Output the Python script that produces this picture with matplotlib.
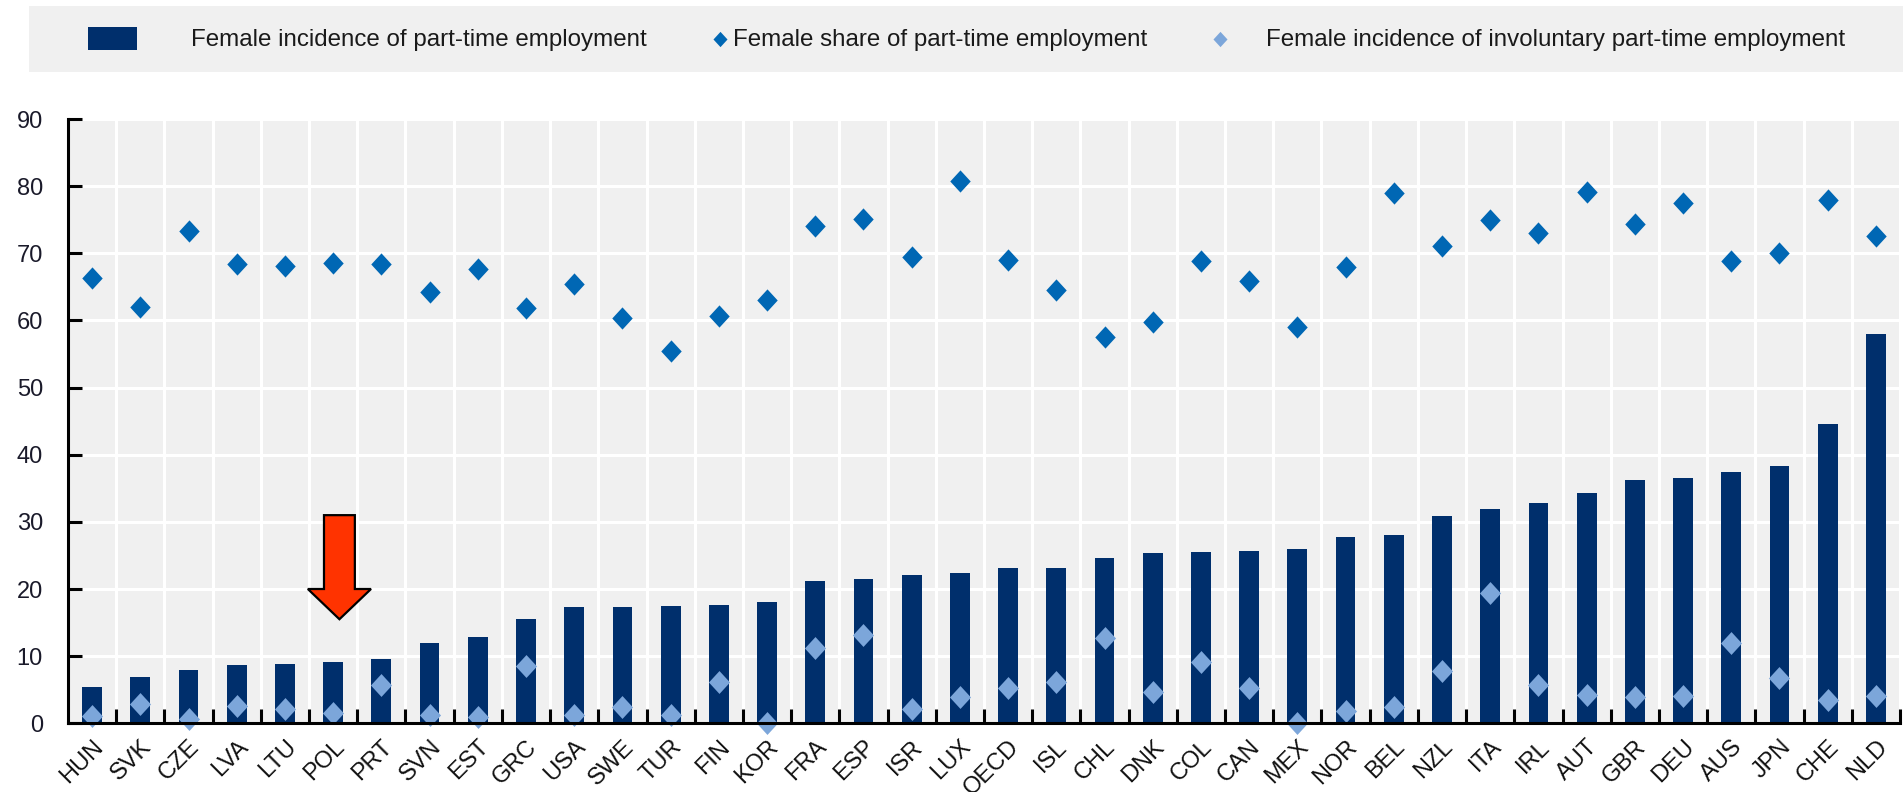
import matplotlib
matplotlib.use("Agg")
import matplotlib.pyplot as plt
from matplotlib.patches import Rectangle, FancyArrow
from matplotlib.lines import Line2D
from matplotlib.ticker import FixedLocator

plt.rcParams['font.family'] = ['Liberation Sans', 'DejaVu Sans']

# --- datos ---
countries = ["HUN", "SVK", "CZE", "LVA", "LTU", "POL", "PRT", "SVN", "EST", "GRC",
             "USA", "SWE", "TUR", "FIN", "KOR", "FRA", "ESP", "ISR", "LUX", "OECD",
             "ISL", "CHL", "DNK", "COL", "CAN", "MEX", "NOR", "BEL", "NZL", "ITA",
             "IRL", "AUT", "GBR", "DEU", "AUS", "JPN", "CHE", "NLD"]

incidence = [5.4, 6.9, 7.9, 8.7, 8.8, 9.2, 9.6, 11.9, 12.8, 15.5,
             17.3, 17.3, 17.5, 17.6, 18.1, 21.2, 21.5, 22.1, 22.4, 23.2,
             23.2, 24.6, 25.3, 25.5, 25.7, 26.0, 27.8, 28.0, 30.9, 31.9,
             32.8, 34.3, 36.3, 36.5, 37.5, 38.3, 44.6, 58.0]

share = [66.3, 62.0, 73.3, 68.4, 68.1, 68.5, 68.4, 64.3, 67.7, 61.9,
         65.5, 60.3, 55.5, 60.7, 63.1, 74.0, 75.1, 69.4, 80.8, 69.0,
         64.6, 57.5, 59.7, 68.8, 65.8, 59.0, 67.9, 79.0, 71.1, 75.0,
         73.0, 79.2, 74.3, 77.5, 68.9, 70.1, 77.9, 72.6]

involuntary = [1.1, 2.8, 0.7, 2.6, 2.2, 1.6, 5.7, 1.2, 1.0, 8.5,
               1.2, 2.5, 1.3, 6.1, 0.1, 11.2, 13.1, 2.1, 3.9, 5.2,
               6.1, 12.7, 4.7, 9.1, 5.3, 0.1, 1.8, 2.4, 7.8, 19.4,
               5.7, 4.2, 3.9, 4.0, 12.0, 6.8, 3.4, 4.1]

labels = ["Female incidence of part-time employment",
          "Female share of part-time employment",
          "Female incidence of involuntary part-time employment"]

# flecha roja sobre POL
arrow_country = "POL"
arrow_top = 31.0
arrow_tip = 15.5

# --- colores ---
c_bar = "#002f6c"
c_share = "#0067b4"
c_invol = "#7ca6da"
c_bg = "#f0f0f0"

W, H = 1903, 792
fig = plt.figure(figsize=(W / 100, H / 100), dpi=100)

def fx(x):
    return x / W

def fy(y):
    return 1 - y / H

ax = fig.add_axes([fx(68), fy(723.3), fx(1900) - fx(68), fy(119) - fy(723.3)])
ax.set_facecolor(c_bg)

diamond = [(0, 1), (0.92, 0), (0, -1), (-0.92, 0), (0, 1)]
x = list(range(len(countries)))

ax.bar(x, incidence, width=0.41, color=c_bar, zorder=2)
ax.plot(x, involuntary, linestyle="none", marker=diamond, ms=16.5, color=c_invol,
        mew=0, zorder=4, clip_on=False)
ax.plot(x, share, linestyle="none", marker=diamond, ms=16, color=c_share,
        mew=0, zorder=4)

# flecha
ix = countries.index(arrow_country) + 0.13
ax.add_patch(FancyArrow(ix, arrow_top, 0, arrow_tip - arrow_top, width=0.64,
                        head_width=1.31, head_length=4.5, length_includes_head=True,
                        fc="#ff3300", ec="black", lw=1.6, zorder=6))

# ejes
ax.set_xlim(-0.5, len(countries) - 0.5)
ax.set_ylim(0, 90)
ax.set_yticks(range(0, 91, 10))
ax.set_xticks(x)
ax.set_xticklabels(countries, rotation=45, ha="right", va="top",
                   rotation_mode="anchor", fontsize=17, color="#111111")
ax.xaxis.set_minor_locator(FixedLocator([i + 0.5 for i in range(len(countries))]))

ax.tick_params(axis="x", which="major", length=0, pad=9)
ax.tick_params(axis="x", which="minor", direction="in", length=10, width=2.2, color="black")
ax.tick_params(axis="y", direction="in", length=10, width=2.2, pad=18,
               labelsize=17, labelcolor="#1a1a2a")

ax.grid(axis="y", which="major", color="white", lw=2.2)
ax.grid(axis="x", which="minor", color="white", lw=2.2)
ax.set_axisbelow(True)

for s in ["top", "right"]:
    ax.spines[s].set_visible(False)
for s in ["left", "bottom"]:
    ax.spines[s].set_linewidth(2.2)
    ax.spines[s].set_color("black")
    ax.spines[s].set_zorder(5)

# --- leyenda manual ---
fig.add_artist(Rectangle((fx(29), fy(72)), fx(W) - fx(29), fy(6) - fy(72),
                         transform=fig.transFigure, fc=c_bg, ec="none"))
fig.add_artist(Rectangle((fx(88), fy(50)), fx(137) - fx(88), fy(27) - fy(50),
                         transform=fig.transFigure, fc=c_bar, ec="none"))
fig.text(fx(191), fy(40), labels[0], fontsize=17.4, va="center", ha="left", color="#1a1a1a")
fig.add_artist(Line2D([fx(720)], [fy(39)], transform=fig.transFigure, marker=diamond,
                      ms=11, color=c_share, mew=0, linestyle="none"))
fig.text(fx(733), fy(40), labels[1], fontsize=17.4, va="center", ha="left", color="#1a1a1a")
fig.add_artist(Line2D([fx(1220)], [fy(39)], transform=fig.transFigure, marker=diamond,
                      ms=11, color=c_invol, mew=0, linestyle="none"))
fig.text(fx(1266), fy(40), labels[2], fontsize=17.4, va="center", ha="left", color="#1a1a1a")

fig.savefig("out.png", dpi=100)
